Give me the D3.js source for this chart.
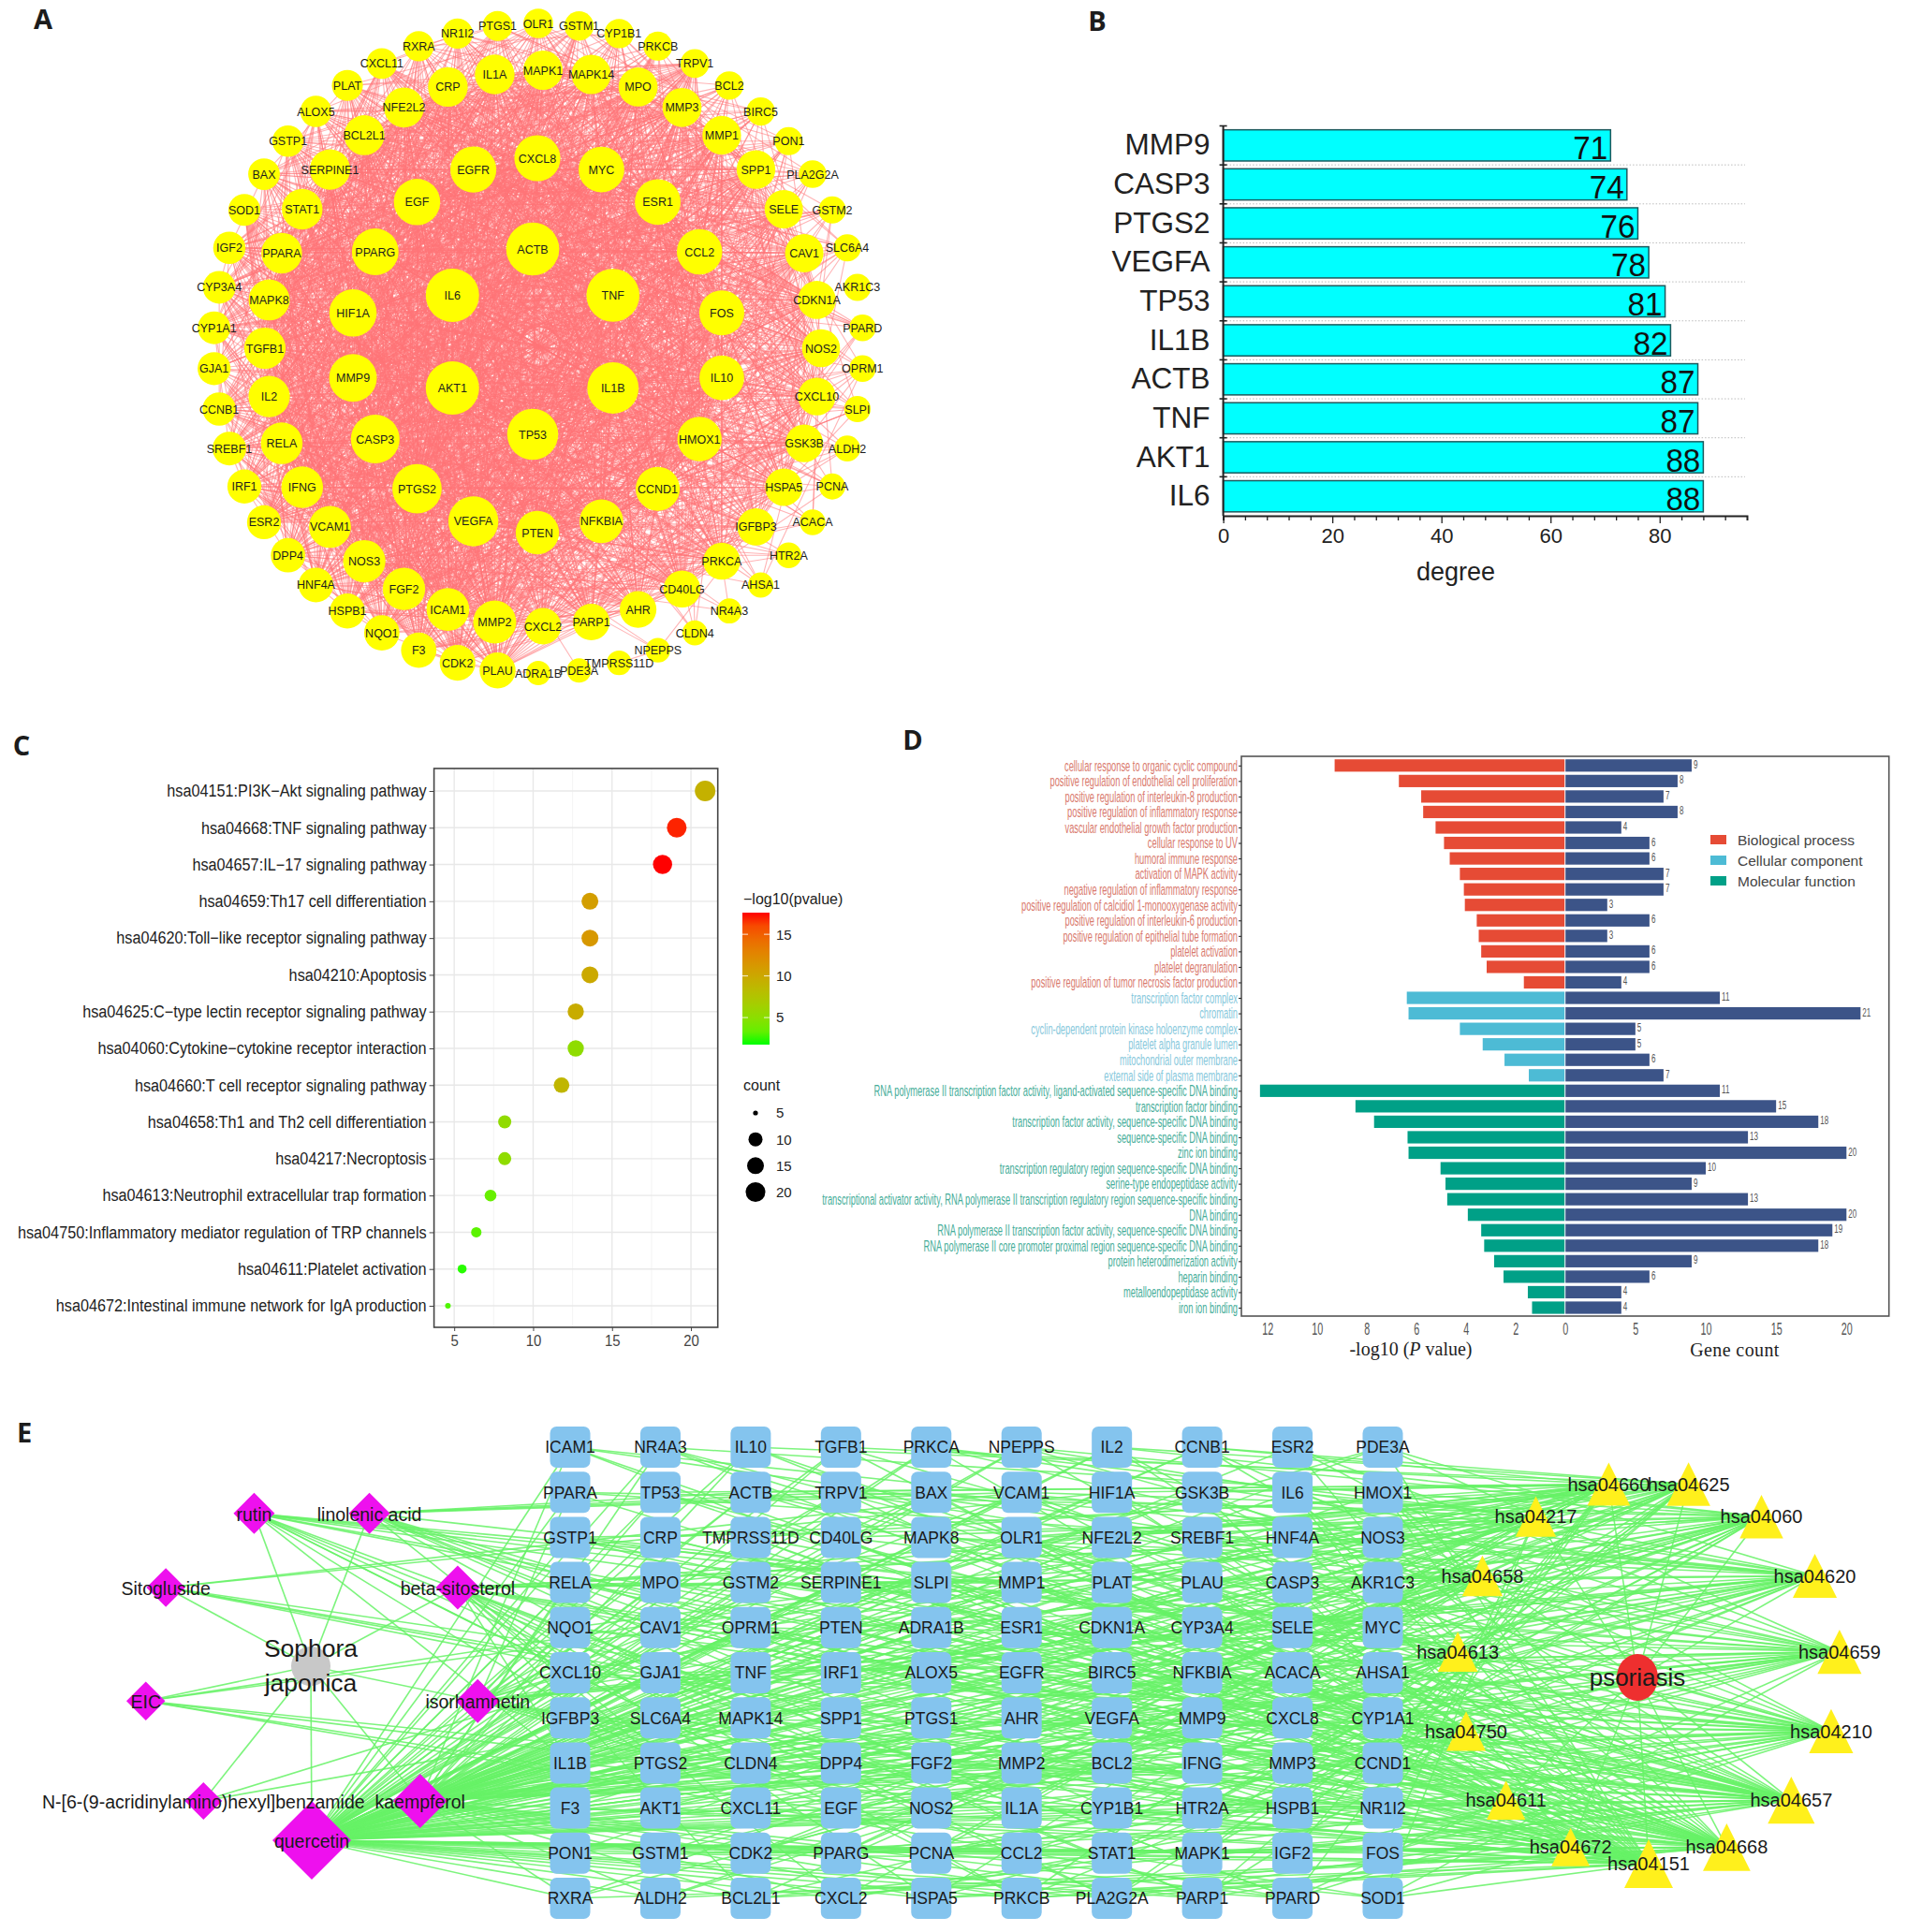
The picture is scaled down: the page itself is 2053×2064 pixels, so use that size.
<!DOCTYPE html>
<html><head><meta charset="utf-8">
<script src="https://cdn.jsdelivr.net/npm/d3@7/dist/d3.min.js"></script>
<style>
html,body{margin:0;padding:0;background:#fff}
svg{display:block}
text{font-family:"Liberation Sans",Arial,sans-serif}
</style></head><body>
<svg id="c" width="2053" height="2064" viewBox="0 0 2053 2064"></svg>
<script>
// ---------- Panel A data: nodes per ring, clockwise in degree order; degrees estimated from node size
const ring1Names=["AKT1","IL6","ACTB","TNF","IL1B","TP53"];
const ring1Degree=[88,88,87,87,82,81];
const ring2Names=["VEGFA","PTGS2","CASP3","MMP9","HIF1A","PPARG","EGF","EGFR","CXCL8","MYC","ESR1","CCL2","FOS","IL10","HMOX1","CCND1","NFKBIA","PTEN"];
const ring2Degree=[78,76,74,71,70,68,67,66,66,65,65,64,63,62,61,60,59,58];
const ring3Names=["MMP2","ICAM1","FGF2","NOS3","VCAM1","IFNG","RELA","IL2","TGFB1","MAPK8","PPARA","STAT1","SERPINE1","BCL2L1","NFE2L2","CRP","IL1A","MAPK1","MAPK14","MPO","MMP3","MMP1","SPP1","SELE","CAV1","CDKN1A","NOS2","CXCL10","GSK3B","HSPA5","IGFBP3","PRKCA","CD40LG","AHR","PARP1","CXCL2"];
const ring3Degree=[57,56,55,55,54,53,53,52,52,51,50,50,49,48,48,47,47,46,46,45,45,44,44,43,43,42,42,41,41,40,40,39,39,38,38,37];
const ring4Names=["PLAU","CDK2","F3","NQO1","HSPB1","HNF4A","DPP4","ESR2","IRF1","SREBF1","CCNB1","GJA1","CYP1A1","CYP3A4","IGF2","SOD1","BAX","GSTP1","ALOX5","PLAT","CXCL11","RXRA","NR1I2","PTGS1","OLR1","GSTM1","CYP1B1","PRKCB","TRPV1","BCL2","BIRC5","PON1","PLA2G2A","GSTM2","SLC6A4","AKR1C3","PPARD","OPRM1","SLPI","ALDH2","PCNA","ACACA","HTR2A","AHSA1","NR4A3","CLDN4","NPEPPS","TMPRSS11D","PDE3A","ADRA1B"];
const ring4Degree=[36,35,34,34,33,32,31,30,30,29,28,27,26,26,25,24,23,22,22,21,20,19,19,18,17,16,16,15,14,13,13,12,11,10,10,9,8,8,7,6,6,5,5,4,3,3,2,2,1,1];

// ---------- Panel B data
const hubNames=["MMP9","CASP3","PTGS2","VEGFA","TP53","IL1B","ACTB","TNF","AKT1","IL6"];
const hubDegree=[71,74,76,78,81,82,87,87,88,88];

// ---------- Panel C data
const keggTerms=["hsa04151:PI3K−Akt signaling pathway","hsa04668:TNF signaling pathway","hsa04657:IL−17 signaling pathway","hsa04659:Th17 cell differentiation","hsa04620:Toll−like receptor signaling pathway","hsa04210:Apoptosis","hsa04625:C−type lectin receptor signaling pathway","hsa04060:Cytokine−cytokine receptor interaction","hsa04660:T cell receptor signaling pathway","hsa04658:Th1 and Th2 cell differentiation","hsa04217:Necroptosis","hsa04613:Neutrophil extracellular trap formation","hsa04750:Inflammatory mediator regulation of TRP channels","hsa04611:Platelet activation","hsa04672:Intestinal immune network for IgA production"];
const keggRatio=[20.9,19.1,18.2,13.6,13.6,13.6,12.7,12.7,11.8,8.2,8.2,7.3,6.4,5.5,4.6];
const keggCount=[23,21,20,15,15,15,14,14,13,9,9,8,7,6,5];
const keggLogP=[9.2,17.2,17.6,10.8,11.3,9.9,9.6,5.2,8.8,5.3,5.2,3.4,3.0,2.0,2.7];
const sizeLegend=[5,10,15,20];
const colorTicks=[5,10,15];

// ---------- Panel D data
const goTerms=["cellular response to organic cyclic compound","positive regulation of endothelial cell proliferation","positive regulation of interleukin-8 production","positive regulation of inflammatory response","vascular endothelial growth factor production","cellular response to UV","humoral immune response","activation of MAPK activity","negative regulation of inflammatory response","positive regulation of calcidiol 1-monooxygenase activity","positive regulation of interleukin-6 production","positive regulation of epithelial tube formation","platelet activation","platelet degranulation","positive regulation of tumor necrosis factor production","transcription factor complex","chromatin","cyclin-dependent protein kinase holoenzyme complex","platelet alpha granule lumen","mitochondrial outer membrane","external side of plasma membrane","RNA polymerase II transcription factor activity, ligand-activated sequence-specific DNA binding","transcription factor binding","transcription factor activity, sequence-specific DNA binding","sequence-specific DNA binding","zinc ion binding","transcription regulatory region sequence-specific DNA binding","serine-type endopeptidase activity","transcriptional activator activity, RNA polymerase II transcription regulatory region sequence-specific binding","DNA binding","RNA polymerase II transcription factor activity, sequence-specific DNA binding","RNA polymerase II core promoter proximal region sequence-specific DNA binding","protein heterodimerization activity","heparin binding","metalloendopeptidase activity","iron ion binding"];
const goCategory=["Biological process","Biological process","Biological process","Biological process","Biological process","Biological process","Biological process","Biological process","Biological process","Biological process","Biological process","Biological process","Biological process","Biological process","Biological process","Cellular component","Cellular component","Cellular component","Cellular component","Cellular component","Cellular component","Molecular function","Molecular function","Molecular function","Molecular function","Molecular function","Molecular function","Molecular function","Molecular function","Molecular function","Molecular function","Molecular function","Molecular function","Molecular function","Molecular function","Molecular function"];
const goLogP=[9.29,6.7,5.8,5.72,5.22,4.88,4.65,4.24,4.08,4.04,3.56,3.48,3.38,3.16,1.66,6.38,6.31,4.24,3.32,2.44,1.46,12.3,8.45,7.7,6.35,6.31,5.02,4.82,4.75,3.92,3.38,3.26,2.86,2.48,1.5,1.33];
const goGenes=[9,8,7,8,4,6,6,7,7,3,6,3,6,6,4,11,21,5,5,6,7,11,15,18,13,20,10,9,13,20,19,18,9,6,4,4];
const goCategories=["Biological process","Cellular component","Molecular function"];

// ---------- Panel E data
const targetRows=[
["ICAM1","NR4A3","IL10","TGFB1","PRKCA","NPEPPS","IL2","CCNB1","ESR2","PDE3A"],
["PPARA","TP53","ACTB","TRPV1","BAX","VCAM1","HIF1A","GSK3B","IL6","HMOX1"],
["GSTP1","CRP","TMPRSS11D","CD40LG","MAPK8","OLR1","NFE2L2","SREBF1","HNF4A","NOS3"],
["RELA","MPO","GSTM2","SERPINE1","SLPI","MMP1","PLAT","PLAU","CASP3","AKR1C3"],
["NQO1","CAV1","OPRM1","PTEN","ADRA1B","ESR1","CDKN1A","CYP3A4","SELE","MYC"],
["CXCL10","GJA1","TNF","IRF1","ALOX5","EGFR","BIRC5","NFKBIA","ACACA","AHSA1"],
["IGFBP3","SLC6A4","MAPK14","SPP1","PTGS1","AHR","VEGFA","MMP9","CXCL8","CYP1A1"],
["IL1B","PTGS2","CLDN4","DPP4","FGF2","MMP2","BCL2","IFNG","MMP3","CCND1"],
["F3","AKT1","CXCL11","EGF","NOS2","IL1A","CYP1B1","HTR2A","HSPB1","NR1I2"],
["PON1","GSTM1","CDK2","PPARG","PCNA","CCL2","STAT1","MAPK1","IGF2","FOS"],
["RXRA","ALDH2","BCL2L1","CXCL2","HSPA5","PRKCB","PLA2G2A","PARP1","PPARD","SOD1"]];
const compoundNames=["quercetin","N-[6-(9-acridinylamino)hexyl]benzamide","EIC","Sitogluside","rutin","linolenic acid","beta-sitosterol","isorhamnetin","kaempferol"];
const compoundTargets=[106,2,6,6,13,13,20,20,55];
const pathwayNames=["hsa04151","hsa04672","hsa04611","hsa04750","hsa04613","hsa04658","hsa04217","hsa04660","hsa04625","hsa04060","hsa04620","hsa04659","hsa04210","hsa04657","hsa04668"];
const pathwayTargets=[23,5,6,7,8,9,9,13,14,14,15,15,15,20,21];

// ---------- Canvas and helpers
const svg=d3.select("#c");
const FG="#1a1a1a";
function polar(cx,cy,r,deg){const a=deg*Math.PI/180;return [cx+r*Math.sin(a),cy-r*Math.cos(a)];}
function fitX(sel,width){let m=0;sel.each(function(){m=Math.max(m,this.getComputedTextLength());});return width/m;}

[["A",46,31],["B",1172,33],["C",23,807],["D",975,801],["E",26,1541]].forEach(([t,x,y])=>{
  svg.append("text").attr("x",x).attr("y",y).attr("text-anchor","middle").attr("font-size",29).attr("font-weight",700)
   .style("font-family","'Open Sans'").attr("fill","#1c1c1c").text(t);
});

// ---------- Panel A
(function(){
  const g=svg.append("g");
  const rings=[
    {names:ring1Names,deg:ring1Degree,cx:569,cy:365,r:99,start:240},
    {names:ring2Names,deg:ring2Degree,cx:574,cy:369,r:200,start:200},
    {names:ring3Names,deg:ring3Degree,cx:580,cy:372,r:297,start:190},
    {names:ring4Names,deg:ring4Degree,cx:575,cy:372,r:347,start:187.2}];
  const rSize=d3.scaleLinear().domain([1,88]).range([13,28.5]);
  const nodes=[];
  rings.forEach(R=>{
    const ang=d3.scaleLinear().domain([0,R.names.length]).range([R.start,R.start+360]);
    R.names.forEach((n,i)=>{const [x,y]=polar(R.cx,R.cy,R.r,ang(i));nodes.push({n,x,y,d:R.deg[i]});});
  });
  // The individual links cannot be read from the picture: they are laid down by a fixed arithmetic
  // rule, with a link density that follows each node's degree.
  const sumD=d3.sum(nodes,d=>d.d), links=[];
  nodes.forEach((a,i)=>nodes.forEach((b,j)=>{
    if(j<=i)return;
    const p=Math.min(1,a.d*b.d/sumD*1.5);
    if((((i+1)*(j+1)*0.6180339887)%1)<p)links.push([a,b]);
  }));
  g.append("g").selectAll("line").data(links).join("line")
   .attr("x1",d=>d[0].x).attr("y1",d=>d[0].y).attr("x2",d=>d[1].x).attr("y2",d=>d[1].y)
   .attr("stroke","#FF7478").attr("stroke-opacity",.55).attr("stroke-width",1.1);
  g.append("g").selectAll("circle").data(nodes).join("circle")
   .attr("cx",d=>d.x).attr("cy",d=>d.y).attr("r",d=>rSize(d.d)).attr("fill","#FFFF00");
  g.append("g").selectAll("text").data(nodes).join("text")
   .attr("x",d=>d.x).attr("y",d=>d.y).attr("dy",".36em").attr("text-anchor","middle")
   .attr("font-size",12.5).attr("fill","#1d1d1d").text(d=>d.n);
})();

// ---------- Panel B
(function(){
  const g=svg.append("g");
  const x=d3.scaleLinear().domain([0,96]).range([1306.6,1866]);
  const y=d3.scaleBand().domain(hubNames).range([134.5,551]).paddingInner(.2).paddingOuter(.1);
  const bound=d=>y(d)-y.step()*.1;
  g.append("g").selectAll("line").data(hubNames.slice(1)).join("line")
   .attr("x1",x(0)).attr("x2",1864).attr("y1",bound).attr("y2",bound)
   .attr("stroke","#bbb").attr("stroke-dasharray","1.5 2");
  g.append("g").selectAll("rect").data(hubNames).join("rect")
   .attr("x",x(0)).attr("y",d=>y(d)).attr("height",y.bandwidth())
   .attr("width",(d,i)=>x(hubDegree[i])-x(0)).attr("fill","#00FFFF").attr("stroke","#1c5a5e").attr("stroke-width",1.5);
  g.append("g").selectAll("text").data(hubNames).join("text")
   .attr("x",(d,i)=>x(hubDegree[i])-3).attr("y",d=>y(d)+y.bandwidth()/2+15).attr("text-anchor","end")
   .attr("font-size",35).attr("fill","#111").attr("textLength",37).attr("lengthAdjust","spacingAndGlyphs").text((d,i)=>hubDegree[i]);
  const ax=g.append("g").attr("transform","translate(0,551)")
   .call(d3.axisBottom(x).tickValues(d3.range(0,96,4)).tickSize(5).tickFormat(d=>d%20===0?d:""));
  ax.select(".domain").attr("stroke","#222").attr("stroke-width",2);
  ax.selectAll(".tick line").attr("stroke","#222").attr("stroke-width",1.3);
  ax.selectAll(".tick").filter(d=>d%20===0).select("line").attr("y2",8);
  ax.selectAll("text").attr("font-size",22).attr("fill","#222").attr("y",13).style("font-family","'Liberation Sans'");
  const ay=g.append("g").attr("transform","translate(1306.6,0)").call(d3.axisLeft(y).tickSize(0).tickPadding(14));
  ay.select(".domain").remove();
  ay.selectAll("text").attr("font-size",31.5).attr("fill","#222").style("font-family","'Liberation Sans'");
  g.append("line").attr("x1",x(0)).attr("x2",x(0)).attr("y1",134).attr("y2",551).attr("stroke","#222").attr("stroke-width",2);
  g.append("g").selectAll("line").data(hubNames).join("line")
   .attr("x1",x(0)-4).attr("x2",x(0)+4).attr("y1",bound).attr("y2",bound).attr("stroke","#222").attr("stroke-width",1.6);
  g.append("text").attr("x",1555).attr("y",620).attr("text-anchor","middle").attr("font-size",27).attr("fill","#222").text("degree");
})();

// ---------- Panel C
(function(){
  const g=svg.append("g");
  const L=463.6,R=766.7,T=821,B=1418;
  const x=d3.scaleLinear().domain([3.72,21.7]).range([L,R]);
  const y=d3.scalePoint().domain(keggTerms).range([845,1395]);
  const color=d3.scaleSequential(d3.interpolateLab("#00FF00","#FF0000")).domain([1.75,17.6]);
  const size=d3.scaleLinear().domain([5,6,9,15,23]).range([3,4.8,7,9,11]);
  g.append("g").selectAll("line").data([7.5,12.5,17.5]).join("line")
   .attr("x1",x).attr("x2",x).attr("y1",T).attr("y2",B).attr("stroke","#f0f0f0").attr("stroke-width",.8);
  g.append("g").selectAll("line").data([5,10,15,20]).join("line")
   .attr("x1",x).attr("x2",x).attr("y1",T).attr("y2",B).attr("stroke","#e8e8e8").attr("stroke-width",1.4);
  g.append("g").selectAll("line").data(keggTerms).join("line")
   .attr("x1",L).attr("x2",R).attr("y1",y).attr("y2",y).attr("stroke","#e8e8e8").attr("stroke-width",1.4);
  g.append("g").selectAll("circle").data(keggTerms).join("circle")
   .attr("cx",(d,i)=>x(keggRatio[i])).attr("cy",y).attr("r",(d,i)=>size(keggCount[i]))
   .attr("fill",(d,i)=>color(keggLogP[i]));
  g.append("rect").attr("x",L).attr("y",T).attr("width",R-L).attr("height",B-T).attr("fill","none").attr("stroke","#444").attr("stroke-width",1.6);
  const ax=g.append("g").attr("transform",`translate(0,${B})`).call(d3.axisBottom(x).tickValues([5,10,15,20]).tickSize(4).tickPadding(4));
  ax.select(".domain").remove();
  ax.selectAll("line").attr("stroke","#444");
  ax.selectAll("text").attr("font-size",17).attr("fill","#444").attr("transform","scale(.88,1)").style("font-family","'Liberation Sans'");
  const ay=g.append("g").attr("transform",`translate(${L},0)`).call(d3.axisLeft(y).tickSize(5).tickPadding(3));
  ay.select(".domain").remove();
  ay.selectAll("line").attr("stroke","#444");
  const yt=ay.selectAll("text").attr("font-size",18).attr("fill","#222").style("font-family","'Liberation Sans'");
  const sx=fitX(yt,437);
  yt.attr("transform",`scale(${sx},1)`).attr("x",-8/sx);
  // colour bar
  const cy=d3.scaleLinear().domain([1.75,17.6]).range([1116,975]);
  const defs=svg.append("defs").append("linearGradient").attr("id","cbar").attr("x1",0).attr("x2",0).attr("y1",1).attr("y2",0);
  d3.range(0,1.01,.1).forEach(t=>defs.append("stop").attr("offset",t).attr("stop-color",color(1.75+t*(17.6-1.75))));
  g.append("rect").attr("x",793).attr("y",975).attr("width",29).attr("height",141).attr("fill","url(#cbar)");
  g.append("g").selectAll("line").data(colorTicks.flatMap(v=>[[v,793,799],[v,816,822]])).join("line")
   .attr("x1",d=>d[1]).attr("x2",d=>d[2]).attr("y1",d=>cy(d[0])).attr("y2",d=>cy(d[0])).attr("stroke","#fff").attr("stroke-opacity",.85);
  g.append("g").selectAll("text").data(colorTicks).join("text")
   .attr("x",829).attr("y",cy).attr("dy",".36em").attr("font-size",15).attr("fill","#222").text(d=>d);
  g.append("text").attr("x",794).attr("y",966).attr("font-size",16).attr("fill","#222").text("−log10(pvalue)");
  g.append("text").attr("x",794).attr("y",1165).attr("font-size",16).attr("fill","#222").text("count");
  const ly=d3.scalePoint().domain(sizeLegend).range([1189,1273.5]);
  const lr=d3.scaleLinear().domain([5,10,15,20]).range([2.6,7.5,9,10.5]);
  g.append("g").selectAll("circle").data(sizeLegend).join("circle").attr("cx",807).attr("cy",ly).attr("r",lr).attr("fill","#000");
  g.append("g").selectAll("text").data(sizeLegend).join("text")
   .attr("x",829).attr("y",ly).attr("dy",".36em").attr("font-size",15).attr("fill","#222").text(d=>d);
})();

// ---------- Panel D
(function(){
  const g=svg.append("g");
  const L=1326,R=2017.7,T=808,B=1406,Z=1671.7;
  const xp=d3.scaleLinear().domain([0,13.05]).range([Z,L]);
  const xg=d3.scaleLinear().domain([0,23.02]).range([Z,R]);
  const y=d3.scalePoint().domain(goTerms).range([817.8,1397]);
  const barFill=d3.scaleOrdinal().domain(goCategories).range(["#E64B35","#4DBBD5","#00A087"]);
  const txtFill=d3.scaleOrdinal().domain(goCategories).range(["#D9796D","#86C8DC","#45AD99"]);
  const h=13.2;
  g.append("g").selectAll("rect").data(goTerms).join("rect")
   .attr("x",(d,i)=>xp(goLogP[i])).attr("y",d=>y(d)-h/2).attr("height",h)
   .attr("width",(d,i)=>Z-xp(goLogP[i])-.5).attr("fill",(d,i)=>barFill(goCategory[i]));
  g.append("g").selectAll("rect").data(goTerms).join("rect")
   .attr("x",Z+.5).attr("y",d=>y(d)-h/2).attr("height",h)
   .attr("width",(d,i)=>xg(goGenes[i])-Z-.5).attr("fill","#3C5488");
  g.append("g").selectAll("text").data(goTerms).join("text")
   .attr("font-size",13).attr("fill","#555").text((d,i)=>goGenes[i])
   .attr("transform",(d,i)=>`translate(${xg(goGenes[i])+2},${y(d)+3}) scale(.62,1)`);
  g.append("rect").attr("x",L).attr("y",T).attr("width",R-L).attr("height",B-T).attr("fill","none").attr("stroke","#555").attr("stroke-width",1.6);
  const ay=g.append("g").attr("transform",`translate(${L},0)`).call(d3.axisLeft(y).tickSize(3).tickPadding(3));
  ay.select(".domain").remove();
  ay.selectAll("line").attr("stroke","#222");
  const yt=ay.selectAll("text").attr("font-size",16.5).style("font-family","'Liberation Sans'").attr("fill",(d,i)=>txtFill(goCategory[i]));
  const sx=fitX(yt,444.5);
  yt.attr("transform",`scale(${sx},1)`).attr("x",-4/sx);
  const axp=g.append("g").attr("transform",`translate(0,${B})`).call(d3.axisBottom(xp).tickValues([12,10,8,6,4,2,0]).tickSize(0).tickPadding(7));
  const axg=g.append("g").attr("transform",`translate(0,${B})`).call(d3.axisBottom(xg).tickValues([5,10,15,20]).tickSize(0).tickPadding(7));
  [axp,axg].forEach(a=>{a.select(".domain").remove();
    a.selectAll("text").attr("font-size",18).attr("fill","#555").attr("transform","scale(.6,1)").style("font-family","'Liberation Sans'");});
  const t1=g.append("text").attr("x",1507).attr("y",1448).attr("text-anchor","middle").attr("font-size",20).attr("fill","#222").style("font-family","'Liberation Serif'");
  t1.append("tspan").text("-log10 (");t1.append("tspan").attr("font-style","italic").text("P");t1.append("tspan").text(" value)");
  g.append("text").attr("x",1853).attr("y",1449).attr("text-anchor","middle").attr("font-size",20).attr("letter-spacing",".4").attr("fill","#222").style("font-family","'Liberation Serif'").text("Gene count");
  const ly=d3.scalePoint().domain(goCategories).range([897,941]);
  g.append("g").selectAll("rect").data(goCategories).join("rect").attr("x",1827).attr("y",d=>ly(d)-5).attr("width",17).attr("height",10).attr("fill",d=>barFill(d));
  g.append("g").selectAll("text").data(goCategories).join("text").attr("x",1856).attr("y",ly).attr("dy",".36em").attr("font-size",15.5).attr("fill","#444").text(d=>d);
})();

// ---------- Panel E
(function(){
  const g=svg.append("g");
  const col=d3.scalePoint().domain(d3.range(10)).range([609,1477]);
  const row=d3.scalePoint().domain(d3.range(11)).range([1546,2028]);
  const targets=targetRows.flatMap((r,i)=>r.map((n,j)=>({n,x:col(j),y:row(i)})));
  const cAng=d3.scaleLinear().domain([0,compoundNames.length]).range([180,540]);
  const compounds=compoundNames.map((n,i)=>{const [x,y]=polar(333,1786,180,cAng(i));return {n,x,y,k:compoundTargets[i]};});
  const pAng=d3.scaleLinear().domain([0,pathwayNames.length]).range([180,540]);
  const pathways=pathwayNames.map((n,i)=>{const [x,y]=polar(1761,1786,205,pAng(i));return {n,x,y,k:pathwayTargets[i]};});
  const herb={x:332,y:1780}, disease={x:1749,y:1792};
  // Which target each compound or pathway links to cannot be read: a fixed index stepping
  // rule picks the targets, with link numbers matching the density of the picture.
  const links=[], pathwayLinkFactor=2;
  compounds.forEach((c,i)=>{links.push([herb,c]);d3.range(c.k).forEach(n=>links.push([c,targets[(i*17+n*37)%110]]));});
  pathways.forEach((p,i)=>{links.push([disease,p]);d3.range(p.k*pathwayLinkFactor).forEach(n=>links.push([p,targets[(i*23+n*43)%110]]));});
  g.append("g").selectAll("line").data(links).join("line")
   .attr("x1",d=>d[0].x).attr("y1",d=>d[0].y).attr("x2",d=>d[1].x).attr("y2",d=>d[1].y)
   .attr("stroke","#66F266").attr("stroke-width",1.6).attr("stroke-opacity",.85);
  g.append("g").selectAll("rect").data(targets).join("rect")
   .attr("x",d=>d.x-21.5).attr("y",d=>d.y-22).attr("width",43).attr("height",44).attr("rx",7).attr("fill","#84C4EE");
  const dSize=d3.scaleLinear().domain([2,13,20,55,106]).range([20,22,23.5,29,42]);
  const line=d3.line();
  g.append("g").selectAll("path").data(compounds).join("path")
   .attr("transform",d=>`translate(${d.x},${d.y})`)
   .attr("d",d=>{const s=dSize(d.k);return line([[0,-s],[s,0],[0,s],[-s,0]])+"Z";}).attr("fill","#EE10EE");
  g.append("ellipse").attr("cx",herb.x).attr("cy",herb.y).attr("rx",21).attr("ry",21).attr("fill","#C8C8C8");
  g.append("ellipse").attr("cx",disease.x).attr("cy",disease.y).attr("rx",22).attr("ry",25).attr("fill","#EE2F2F");
  const tSize=d3.scaleLinear().domain([5,23]).range([41,52]);
  g.append("g").selectAll("path.t").data(pathways).join("path")
   .attr("transform",d=>`translate(${d.x},${d.y})`)
   .attr("d",d=>{const s=tSize(d.k)/2;return line([[0,-s],[s,s],[-s,s]])+"Z";}).attr("fill","#FFF01C");
  g.append("g").selectAll("text").data(targets).join("text")
   .attr("x",d=>d.x).attr("y",d=>d.y).attr("dy",".36em").attr("text-anchor","middle").attr("font-size",17.5).attr("fill",FG).text(d=>d.n);
  g.append("g").selectAll("text").data(compounds).join("text")
   .attr("x",d=>d.x).attr("y",d=>d.y+1).attr("dy",".36em").attr("text-anchor","middle").attr("font-size",19.5).attr("fill",FG).text(d=>d.n);
  g.append("g").selectAll("text").data(pathways).join("text")
   .attr("x",d=>d.x).attr("y",d=>d.y).attr("dy",".36em").attr("text-anchor","middle").attr("font-size",20).attr("fill",FG).text(d=>d.n);
  g.append("text").attr("x",332).attr("y",1770).attr("text-anchor","middle").attr("font-size",26.5).attr("fill",FG).text("Sophora");
  g.append("text").attr("x",332).attr("y",1807).attr("text-anchor","middle").attr("font-size",26.5).attr("fill",FG).text("japonica");
  g.append("text").attr("x",disease.x).attr("y",disease.y+9).attr("text-anchor","middle").attr("font-size",26).attr("fill",FG).text("psoriasis");
})();
</script>
</body></html>
